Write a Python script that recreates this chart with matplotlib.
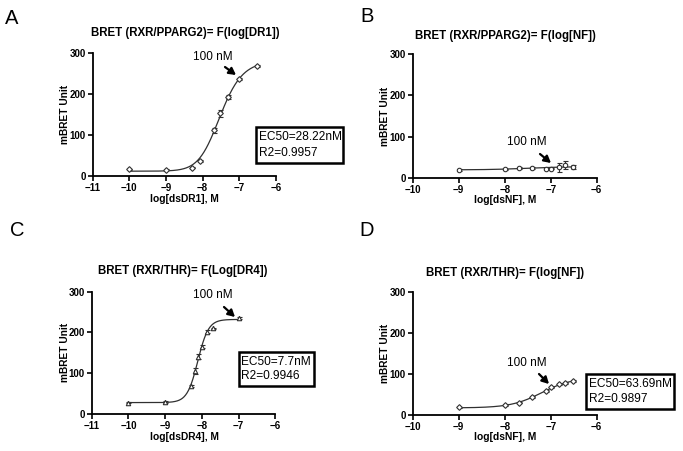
import numpy as np
import matplotlib
matplotlib.use("Agg")
import matplotlib.pyplot as plt
from matplotlib.patches import Rectangle, FancyArrowPatch

plt.rcParams['font.family'] = ['Liberation Sans', 'DejaVu Sans']

W, H = 683, 451

# ---------------- data ----------------
# Panel A: RXR/PPARG2 vs dsDR1
a_x = [-10.0, -9.0, -8.3, -8.08, -7.7, -7.52, -7.3, -7.0, -6.52]
a_y = [16, 15, 20, 36, 111, 152, 191, 236, 268]
a_err = [1, 1, 2, 2, 6, 8, 5, 3, 2]
# fit parameters (5PL): bottom, top, logC, hill, asym
a_fit = (11, 280, -7.70, 1.3, 1.5)

# Panel B: RXR/PPARG2 vs dsNF
b_x = [-9.0, -8.0, -7.7, -7.4, -7.1, -7.0, -6.82, -6.7, -6.52]
b_y = [19, 20, 24, 23, 22, 22, 25, 31, 26]
b_err = [2, 2, 3, 2, 2, 2, 11, 9, 4]
b_fit = (19, 27, -7.5, 1.0, 1.0)

# Panel C: RXR/THR vs dsDR4
c_x = [-10.0, -9.0, -8.3, -8.2, -8.1, -8.0, -7.85, -7.7, -7.0]
c_y = [28, 30, 68, 105, 140, 165, 202, 210, 236]
c_err = [1, 2, 2, 8, 6, 4, 4, 2, 3]
c_fit = (28, 232, -8.11, 3.0, 1.0)

# Panel D: RXR/THR vs dsNF
d_x = [-9.0, -8.0, -7.7, -7.4, -7.1, -7.0, -6.82, -6.7, -6.52]
d_y = [19, 25, 31, 44, 59, 68, 75, 78, 83]
d_err = [1, 2, 2, 2, 3, 2, 2, 2, 2]
d_fit = (18, 92, -7.196, 1.3, 1.0)

titles = ["BRET (RXR/PPARG2)= F(log[DR1])", "BRET (RXR/PPARG2)= F(log[NF])",
          "BRET (RXR/THR)= F(Log[DR4])", "BRET (RXR/THR)= F(log[NF])"]
xlabels = ["log[dsDR1], M", "log[dsNF], M", "log[dsDR4], M", "log[dsNF], M"]
letters = ["A", "B", "C", "D"]
boxes = [("EC50=28.22nM", "R2=0.9957"), None,
         ("EC50=7.7nM", "R2=0.9946"), ("EC50=63.69nM", "R2=0.9897")]
yticks = [0, 100, 200, 300]


def fpl(x, p):
    b, t, c, h, s = p
    return b + (t - b) / (1 + 10 ** ((c - x) * h)) ** s


def fx(px):
    return px / W


def fy(py):
    return 1 - py / H


fig = plt.figure(figsize=(W / 100, H / 100), dpi=100)
fig.patch.set_facecolor('white')

# axes rectangles in pixels: (x_left, x_right, y_bottom(0), y_top(300))
rects = [(92.7, 276.0, 175.7, 52.7),
         (412.7, 596.7, 177.7, 54.3),
         (91.7, 275.3, 414.0, 291.7),
         (412.7, 596.7, 415.3, 292.0)]
xlims = [(-11, -6), (-10, -6), (-11, -6), (-10, -6)]
xs = [a_x, b_x, c_x, d_x]
ys = [a_y, b_y, c_y, d_y]
errs = [a_err, b_err, c_err, d_err]
fits = [a_fit, b_fit, c_fit, d_fit]
fit_ranges = [(-10, -6.5), (-9, -6.5), (-10, -7), (-9, -6.5)]
markers = ['D', 'o', '^', 'D']
msizes = [2.9, 3.2, 3.2, 2.9]
# annotation: text pos (px), arrow start (px), arrow end (px)
annos = [((213, 57), (225, 67), (236, 75)),
         ((527, 142), (540, 154), (551, 163)),
         ((213, 295), (224, 307), (235, 317)),
         ((527, 363), (539, 374), (549, 384))]
title_pos = [(185, 33), (505, 36), (183, 271), (505, 273)]
xlabel_pos = [(184, 199), (505, 200), (184, 437), (505, 437)]
ylabel_pos = [65, 385, 65, 385]
letter_pos = [(12, 18), (367, 16), (17, 230), (367, 231)]
box_rects = [(256, 343, 127, 163), None, (239, 314, 352, 386), (586, 674, 374, 409)]

lc = '#303030'
for i in range(4):
    xl, xr, yb, yt = rects[i]
    ax = fig.add_axes([fx(xl), fy(yb), (xr - xl) / W, (yb - yt) / H])
    ax.set_xlim(*xlims[i])
    ax.set_ylim(0, 300)
    ax.patch.set_alpha(0)
    for s in ['top', 'right']:
        ax.spines[s].set_visible(False)
    for s in ['left', 'bottom']:
        ax.spines[s].set_linewidth(1.3)
        ax.spines[s].set_color('black')
    ax.set_xticks(range(xlims[i][0], xlims[i][1] + 1))
    ax.set_yticks(yticks)
    ax.tick_params(direction='out', length=3.5, width=1.2, pad=1.5,
                   labelsize=7)
    for lab in ax.get_xticklabels() + ax.get_yticklabels():
        lab.set_fontweight('bold')

    lo, hi = fit_ranges[i]
    xx = np.linspace(lo, hi, 300)
    ax.plot(xx, fpl(xx, fits[i]), color=lc, lw=0.9, zorder=2)
    ax.errorbar(xs[i], ys[i], yerr=errs[i], fmt=markers[i], ms=msizes[i],
                mfc='white', mec=lc, mew=0.8, ecolor=lc, elinewidth=0.8,
                capsize=1.8, capthick=0.8, zorder=3, clip_on=False)

    # annotation
    (tx, ty), (sx, sy), (ex, ey) = annos[i]
    fig.text(fx(tx), fy(ty), "100 nM", ha='center', va='center', fontsize=8.5)
    fig.add_artist(FancyArrowPatch(
        (fx(sx), fy(sy)), (fx(ex), fy(ey)), transform=fig.transFigure,
        arrowstyle='-|>,head_length=4,head_width=2.2', lw=1.6,
        color='black', shrinkA=0, shrinkB=0))

    fig.text(fx(title_pos[i][0]), fy(title_pos[i][1]), titles[i],
             ha='center', va='center', fontsize=8.3, fontweight='bold')
    fig.text(fx(xlabel_pos[i][0]), fy(xlabel_pos[i][1]), xlabels[i],
             ha='center', va='center', fontsize=7.4, fontweight='bold')
    fig.text(fx(ylabel_pos[i]), fy((yb + yt) / 2), "mBRET Unit",
             ha='center', va='center', rotation=90, fontsize=7.3,
             fontweight='bold')
    fig.text(fx(letter_pos[i][0]), fy(letter_pos[i][1]), letters[i],
             ha='center', va='center', fontsize=14.5)

    if boxes[i] is not None:
        bl, br, bt, bb = box_rects[i]
        fig.add_artist(Rectangle((fx(bl), fy(bb)), (br - bl) / W, (bb - bt) / H,
                                 transform=fig.transFigure, fill=False,
                                 edgecolor='black', lw=1.8))
        fig.text(fx(bl + 2.5), fy(bt + (bb - bt) * 0.29), boxes[i][0],
                 ha='left', va='center', fontsize=8.6)
        fig.text(fx(bl + 2.5), fy(bt + (bb - bt) * 0.71), boxes[i][1],
                 ha='left', va='center', fontsize=8.6)

fig.savefig("out.png", dpi=100, facecolor='white')
